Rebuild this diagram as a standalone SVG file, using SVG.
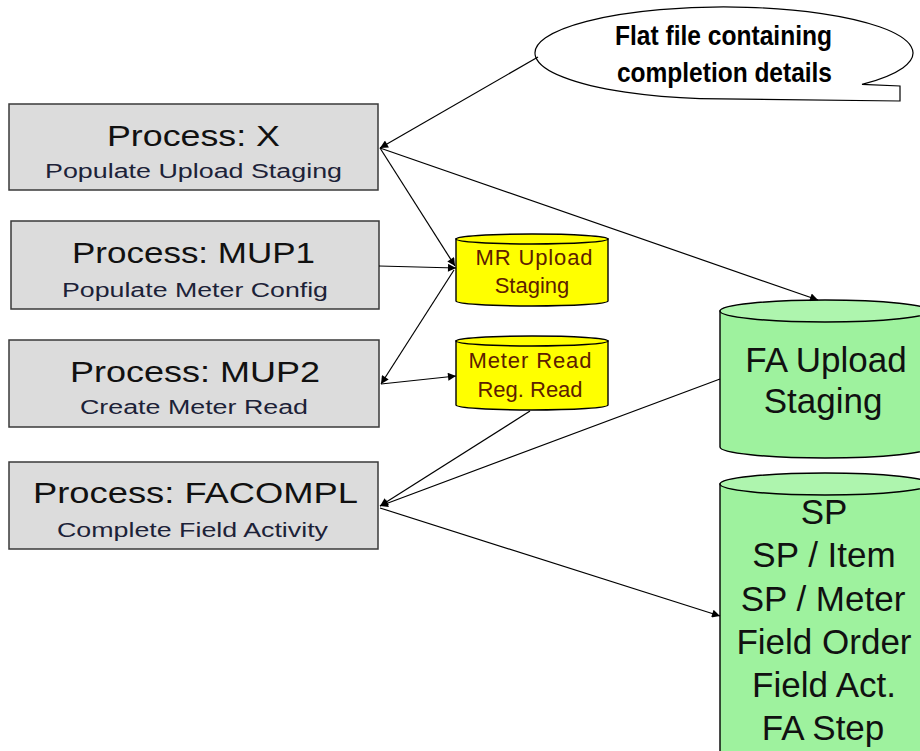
<svg xmlns="http://www.w3.org/2000/svg" width="920" height="751" viewBox="0 0 920 751">
<defs>
<marker id="ah" viewBox="0 0 10 10" refX="10" refY="5" markerWidth="11" markerHeight="8" markerUnits="userSpaceOnUse" orient="auto">
<path d="M0,0 L10,5 L0,10 Z" fill="#000"/>
</marker>
<style>
.proc{fill:#dcdcdc;stroke:#3a3a3a;stroke-width:1.5}
.ttl{font-family:"Liberation Sans",Arial,sans-serif;font-size:30px;fill:#111}
.sub{font-family:"Liberation Sans",Arial,sans-serif;font-size:20px;fill:#1c2238}
.yel{fill:#ffff00;stroke:#000;stroke-width:1.4}
.ytx{font-family:"Liberation Sans",Arial,sans-serif;font-size:22px;fill:#5c2000;text-anchor:middle}
.grn{fill:#9ef29e;stroke:#000;stroke-width:1.4}
.gtop{fill:#aef5ae;stroke:#000;stroke-width:1.4}
.gtx{font-family:"Liberation Sans",Arial,sans-serif;font-size:35px;fill:#111;text-anchor:middle}
.btx{font-family:"Liberation Sans",Arial,sans-serif;font-size:28px;font-weight:bold;fill:#000}
.edge{stroke:#000;stroke-width:1.2;fill:none;marker-end:url(#ah)}
</style>
</defs>
<rect width="920" height="751" fill="#fff"/>

<g id="flatfile">
<path d="M862,84.4 A189,46 0 1 0 700,98.6 L900,101 L900,86 Z" fill="#fff" stroke="#000" stroke-width="1.2"/>
<text class="btx" x="615" y="45" textLength="217" lengthAdjust="spacingAndGlyphs">Flat file containing</text>
<text class="btx" x="617" y="82" textLength="215" lengthAdjust="spacingAndGlyphs">completion details</text>
</g>

<g id="procX">
<rect class="proc" x="9" y="104" width="369" height="86"/>
<text class="ttl" x="107" y="146" textLength="173" lengthAdjust="spacingAndGlyphs">Process: X</text>
<text class="sub" x="45" y="178" textLength="297" lengthAdjust="spacingAndGlyphs">Populate Upload Staging</text>
</g>

<g id="procMUP1">
<rect class="proc" x="11" y="221" width="368" height="88"/>
<text class="ttl" x="72" y="263" textLength="243" lengthAdjust="spacingAndGlyphs">Process: MUP1</text>
<text class="sub" x="62" y="297" textLength="266" lengthAdjust="spacingAndGlyphs">Populate Meter Config</text>
</g>

<g id="procMUP2">
<rect class="proc" x="9" y="340" width="370" height="87"/>
<text class="ttl" x="70" y="382" textLength="250" lengthAdjust="spacingAndGlyphs">Process: MUP2</text>
<text class="sub" x="80" y="414" textLength="228" lengthAdjust="spacingAndGlyphs">Create Meter Read</text>
</g>

<g id="procFACOMPL">
<rect class="proc" x="9" y="462" width="369" height="87"/>
<text class="ttl" x="33" y="503" textLength="325" lengthAdjust="spacingAndGlyphs">Process: FACOMPL</text>
<text class="sub" x="57" y="537" textLength="271" lengthAdjust="spacingAndGlyphs">Complete Field Activity</text>
</g>

<g id="mrUpload">
<path class="yel" d="M456,239 L456,301 A76,5 0 0 0 608,301 L608,239 Z"/>
<ellipse class="yel" cx="532" cy="239" rx="76" ry="5"/>
<text class="ytx" x="534" y="265" textLength="117" lengthAdjust="spacing">MR Upload</text>
<text class="ytx" x="532" y="293">Staging</text>
</g>

<g id="meterRead">
<path class="yel" d="M456,341 L456,405 A76,5 0 0 0 608,405 L608,341 Z"/>
<ellipse class="yel" cx="532" cy="341" rx="76" ry="5"/>
<text class="ytx" x="530" y="368" textLength="123" lengthAdjust="spacing">Meter Read</text>
<text class="ytx" x="530" y="397">Reg. Read</text>
</g>

<g id="faUpload">
<path class="grn" d="M720,311 L720,447 A105,11 0 0 0 930,447 L930,311 Z"/>
<ellipse class="gtop" cx="825" cy="311" rx="105" ry="11"/>
<text class="gtx" x="826" y="372">FA Upload</text>
<text class="gtx" x="823" y="413">Staging</text>
</g>

<g id="spTables">
<path class="grn" d="M720,484 L720,760 L930,760 L930,484 Z"/>
<ellipse class="gtop" cx="825" cy="484" rx="105" ry="11"/>
<text class="gtx" x="824" y="524">SP</text>
<text class="gtx" x="824" y="567">SP / Item</text>
<text class="gtx" x="823" y="611">SP / Meter</text>
<text class="gtx" x="824" y="654">Field Order</text>
<text class="gtx" x="824" y="697">Field Act.</text>
<text class="gtx" x="823" y="740">FA Step</text>
</g>

<g id="connectors">
<line class="edge" x1="538" y1="57" x2="380" y2="148"/>
<line class="edge" x1="380" y1="148" x2="818" y2="300"/>
<line class="edge" x1="380" y1="148" x2="455" y2="266"/>
<line class="edge" x1="379" y1="266" x2="456" y2="268"/>
<line class="edge" x1="454" y1="270" x2="381" y2="384"/>
<line class="edge" x1="381" y1="384" x2="456" y2="376"/>
<line class="edge" x1="530" y1="411" x2="380" y2="506"/>
<line class="edge" x1="720" y1="379" x2="380" y2="506"/>
<line class="edge" x1="380" y1="508" x2="720" y2="616"/>
</g>
</svg>
